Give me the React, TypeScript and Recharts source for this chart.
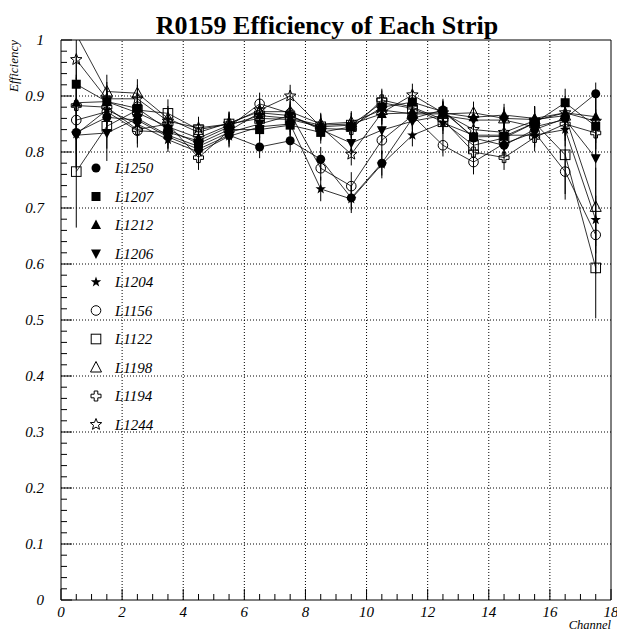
import React from 'react';
import {
  ScatterChart,
  Scatter,
  XAxis,
  YAxis,
  ErrorBar,
  ReferenceLine,
  Legend,
  Customized,
} from 'recharts';

// channel centres (x axis)
const channels = [0.5, 1.5, 2.5, 3.5, 4.5, 5.5, 6.5, 7.5, 8.5, 9.5, 10.5, 11.5, 12.5, 13.5, 14.5, 15.5, 16.5, 17.5];

// efficiency per strip, one list per layer
const effL1250 = [0.835, 0.862, 0.857, 0.827, 0.805, 0.83, 0.809, 0.82, 0.787, 0.718, 0.78, 0.86, 0.875, 0.825, 0.812, 0.84, 0.86, 0.904];
const effL1207 = [0.921, 0.89, 0.878, 0.84, 0.815, 0.84, 0.84, 0.848, 0.835, 0.845, 0.88, 0.889, 0.872, 0.827, 0.828, 0.852, 0.888, 0.846];
const effL1212 = [0.888, 0.89, 0.87, 0.845, 0.825, 0.848, 0.865, 0.86, 0.848, 0.85, 0.868, 0.87, 0.87, 0.862, 0.866, 0.86, 0.87, 0.863];
const effL1206 = [0.83, 0.834, 0.86, 0.83, 0.81, 0.835, 0.85, 0.865, 0.84, 0.816, 0.839, 0.855, 0.865, 0.857, 0.857, 0.845, 0.858, 0.789];
const effL1204 = [0.832, 0.875, 0.85, 0.822, 0.8, 0.828, 0.845, 0.85, 0.734, 0.716, 0.778, 0.83, 0.852, 0.83, 0.83, 0.83, 0.84, 0.679];
const effL1156 = [0.857, 0.872, 0.838, 0.835, 0.82, 0.845, 0.886, 0.869, 0.771, 0.739, 0.821, 0.865, 0.812, 0.782, 0.815, 0.835, 0.765, 0.652];
const effL1122 = [0.765, 0.846, 0.875, 0.869, 0.84, 0.85, 0.86, 0.858, 0.845, 0.848, 0.888, 0.878, 0.854, 0.812, 0.825, 0.852, 0.795, 0.593];
const effL1198 = [1.01, 0.908, 0.905, 0.86, 0.835, 0.852, 0.872, 0.872, 0.85, 0.853, 0.875, 0.868, 0.868, 0.87, 0.86, 0.858, 0.865, 0.702];
const effL1194 = [0.883, 0.88, 0.84, 0.85, 0.79, 0.838, 0.87, 0.865, 0.842, 0.84, 0.893, 0.88, 0.858, 0.8, 0.79, 0.826, 0.85, 0.834];
const effL1244 = [0.965, 0.895, 0.895, 0.855, 0.843, 0.85, 0.875, 0.9, 0.845, 0.796, 0.87, 0.902, 0.87, 0.84, 0.835, 0.856, 0.87, 0.855];

// statistical errors
const errL1250 = [0.06, 0.025, 0.022, 0.02, 0.02, 0.02, 0.02, 0.02, 0.022, 0.022, 0.022, 0.02, 0.02, 0.02, 0.02, 0.022, 0.03, 0.02];
const errL1207 = [0.05, 0.024, 0.022, 0.02, 0.02, 0.02, 0.02, 0.02, 0.02, 0.02, 0.02, 0.02, 0.02, 0.02, 0.02, 0.022, 0.025, 0.03];
const errL1212 = [0.05, 0.025, 0.022, 0.02, 0.02, 0.02, 0.02, 0.02, 0.02, 0.02, 0.02, 0.02, 0.02, 0.02, 0.02, 0.022, 0.025, 0.035];
const errL1206 = [0.06, 0.05, 0.025, 0.025, 0.02, 0.02, 0.02, 0.02, 0.02, 0.022, 0.022, 0.02, 0.02, 0.02, 0.02, 0.022, 0.03, 0.05];
const errL1204 = [0.06, 0.025, 0.025, 0.022, 0.02, 0.02, 0.02, 0.02, 0.022, 0.025, 0.025, 0.02, 0.02, 0.02, 0.02, 0.022, 0.03, 0.06];
const errL1156 = [0.06, 0.03, 0.03, 0.022, 0.02, 0.02, 0.02, 0.02, 0.022, 0.025, 0.025, 0.02, 0.02, 0.022, 0.022, 0.025, 0.04, 0.07];
const errL1122 = [0.1, 0.04, 0.03, 0.025, 0.022, 0.022, 0.022, 0.022, 0.022, 0.022, 0.022, 0.022, 0.022, 0.022, 0.022, 0.03, 0.08, 0.09];
const errL1198 = [0.0, 0.03, 0.025, 0.022, 0.02, 0.02, 0.02, 0.02, 0.02, 0.02, 0.02, 0.02, 0.02, 0.02, 0.02, 0.022, 0.03, 0.07];
const errL1194 = [0.05, 0.03, 0.025, 0.022, 0.022, 0.02, 0.02, 0.02, 0.02, 0.02, 0.02, 0.02, 0.02, 0.022, 0.022, 0.025, 0.03, 0.05];
const errL1244 = [0.035, 0.03, 0.025, 0.022, 0.02, 0.02, 0.02, 0.02, 0.02, 0.02, 0.02, 0.02, 0.02, 0.02, 0.02, 0.025, 0.03, 0.05];

// axis labels
const xMajor = [0, 2, 4, 6, 8, 10, 12, 14, 16, 18];
const xLabels = ['0', '2', '4', '6', '8', '10', '12', '14', '16', '18'];
const yMajor = [0, 0.1, 0.2, 0.3, 0.4, 0.5, 0.6, 0.7, 0.8, 0.9, 1];
const yLabels = ['0', '0.1', '0.2', '0.3', '0.4', '0.5', '0.6', '0.7', '0.8', '0.9', '1'];

const FONT = '"Liberation Serif", "Times New Roman", serif';

const series = [
  { name: 'L1250', kind: 'circle', eff: effL1250, err: errL1250 },
  { name: 'L1207', kind: 'square', eff: effL1207, err: errL1207 },
  { name: 'L1212', kind: 'triUp', eff: effL1212, err: errL1212 },
  { name: 'L1206', kind: 'triDown', eff: effL1206, err: errL1206 },
  { name: 'L1204', kind: 'star', eff: effL1204, err: errL1204 },
  { name: 'L1156', kind: 'oCircle', eff: effL1156, err: errL1156 },
  { name: 'L1122', kind: 'oSquare', eff: effL1122, err: errL1122 },
  { name: 'L1198', kind: 'oTri', eff: effL1198, err: errL1198 },
  { name: 'L1194', kind: 'oCross', eff: effL1194, err: errL1194 },
  { name: 'L1244', kind: 'oStar', eff: effL1244, err: errL1244 },
];

// minor ticks: 4 subdivisions between major ticks
const xTicks = xMajor.flatMap((v, i) => (i === 0 ? [v] : [v - 1.5, v - 1, v - 0.5, v]));
const yTicks = yMajor.flatMap((v, i) =>
  i === 0 ? [v] : [v - 0.08, v - 0.06, v - 0.04, v - 0.02, v].map((t) => +t.toFixed(2))
);

function starPts(cx: number, cy: number, ro: number, ri: number) {
  const pts: string[] = [];
  for (let i = 0; i < 10; i++) {
    const r = i % 2 === 0 ? ro : ri;
    const a = -Math.PI / 2 + (i * Math.PI) / 5;
    pts.push(`${cx + r * Math.cos(a)},${cy + r * Math.sin(a)}`);
  }
  return pts.join(' ');
}

function Marker({ kind, cx, cy }: { kind: string; cx: number; cy: number }) {
  const k = '#000';
  switch (kind) {
    case 'circle':
      return <circle cx={cx} cy={cy} r={4.5} fill={k} />;
    case 'square':
      return <rect x={cx - 4.5} y={cy - 4.5} width={9} height={9} fill={k} />;
    case 'triUp':
      return <polygon points={`${cx},${cy - 5.5} ${cx - 5},${cy + 4} ${cx + 5},${cy + 4}`} fill={k} />;
    case 'triDown':
      return <polygon points={`${cx},${cy + 5.5} ${cx - 5},${cy - 4} ${cx + 5},${cy - 4}`} fill={k} />;
    case 'star':
      return <polygon points={starPts(cx, cy, 5.5, 2.2)} fill={k} />;
    case 'oCircle':
      return <circle cx={cx} cy={cy} r={4.8} fill="none" stroke={k} strokeWidth={1} />;
    case 'oSquare':
      return <rect x={cx - 4.8} y={cy - 4.8} width={9.6} height={9.6} fill="none" stroke={k} strokeWidth={1} />;
    case 'oTri':
      return <polygon points={`${cx},${cy - 6} ${cx - 5.5},${cy + 4.5} ${cx + 5.5},${cy + 4.5}`} fill="none" stroke={k} />;
    case 'oCross': {
      const a = 5;
      const b = 1.8;
      const p = [
        [-b, -a], [b, -a], [b, -b], [a, -b], [a, b], [b, b],
        [b, a], [-b, a], [-b, b], [-a, b], [-a, -b], [-b, -b],
      ]
        .map(([dx, dy]) => `${cx + dx},${cy + dy}`)
        .join(' ');
      return <polygon points={p} fill="none" stroke={k} />;
    }
    default:
      return <polygon points={starPts(cx, cy, 6, 2.6)} fill="none" stroke={k} />;
  }
}

function XTick(props: any) {
  const { x, y, payload } = props;
  const idx = xMajor.indexOf(payload.value);
  return (
    <g>
      <line x1={x} x2={x} y1={y} y2={y - (idx >= 0 ? 11 : 6)} stroke="#000" />
      {idx >= 0 && (
        <text x={x} y={y + 17} textAnchor="middle" fontFamily={FONT} fontStyle="italic" fontSize={15} fill="#000">
          {xLabels[idx]}
        </text>
      )}
    </g>
  );
}

function YTick(props: any) {
  const { x, y, payload } = props;
  const idx = yMajor.findIndex((v) => Math.abs(v - payload.value) < 1e-6);
  return (
    <g>
      <line x1={x} x2={x + (idx >= 0 ? 11 : 6)} y1={y} y2={y} stroke="#000" />
      {idx >= 0 && (
        <text x={x - 17} y={y + 5} textAnchor="end" fontFamily={FONT} fontStyle="italic" fontSize={15} fill="#000">
          {yLabels[idx]}
        </text>
      )}
    </g>
  );
}

function LegendBox() {
  return (
    <svg width={110} height={290}>
      {series.map((s, i) => (
        <g key={s.name}>
          <Marker kind={s.kind} cx={11} cy={14 + i * 28.5} />
          <text x={30} y={14 + i * 28.5 + 5} fontFamily={FONT} fontStyle="italic" fontSize={15} fill="#000">
            {s.name}
          </text>
        </g>
      ))}
    </svg>
  );
}

function Titles() {
  return (
    <g>
      <text x={327} y={34} textAnchor="middle" fontFamily={FONT} fontWeight="bold" fontSize={26} fill="#000">
        R0159 Efficiency of Each Strip
      </text>
      <text
        x={18}
        y={40}
        transform="rotate(-90 18 40)"
        textAnchor="end"
        fontFamily={FONT}
        fontStyle="italic"
        fontSize={13}
        fill="#000"
      >
        Efficiency
      </text>
      <text x={611} y={629} textAnchor="end" fontFamily={FONT} fontStyle="italic" fontSize={12.5} fill="#000">
        Channel
      </text>
    </g>
  );
}

export default function App() {
  return (
    <div style={{ position: 'absolute', left: 0, top: 0, background: '#fff' }}>
      <ScatterChart width={617} height={633} margin={{ top: 40, right: 6, bottom: 0, left: 0 }}>
        <XAxis
          type="number"
          dataKey="x"
          domain={[0, 18]}
          allowDataOverflow
          ticks={xTicks}
          interval={0}
          tickSize={0}
          tickMargin={0}
          height={33}
          axisLine={{ stroke: '#000' }}
          tickLine={false}
          tick={<XTick />}
        />
        <YAxis
          type="number"
          dataKey="y"
          domain={[0, 1]}
          allowDataOverflow
          ticks={yTicks}
          interval={0}
          tickSize={0}
          tickMargin={0}
          width={61}
          axisLine={{ stroke: '#000' }}
          tickLine={false}
          tick={<YTick />}
        />
        {xMajor.slice(1, -1).map((v) => (
          <ReferenceLine key={'gx' + v} x={v} stroke="#000" strokeDasharray="1 2" />
        ))}
        {yMajor.slice(1, -1).map((v) => (
          <ReferenceLine key={'gy' + v} y={v} stroke="#000" strokeDasharray="1 2" />
        ))}
        <ReferenceLine x={18} stroke="#000" />
        <ReferenceLine y={1} stroke="#000" />
        {series.map((s) => (
          <Scatter
            key={s.name}
            name={s.name}
            data={channels.map((c, i) => ({ x: c, y: s.eff[i], e: s.err[i] }))}
            line={{ stroke: '#000', strokeWidth: 0.8 }}
            lineType="joint"
            isAnimationActive={false}
            shape={(p: any) => <Marker kind={s.kind} cx={p.cx} cy={p.cy} />}
          >
            <ErrorBar dataKey="e" direction="y" width={0} stroke="#000" strokeWidth={1} />
          </Scatter>
        ))}
        <Legend
          layout="vertical"
          align="center"
          verticalAlign="middle"
          wrapperStyle={{ left: 85, top: 154, width: 110, height: 290 }}
          content={() => <LegendBox />}
        />
        <Customized component={Titles} />
      </ScatterChart>
    </div>
  );
}
